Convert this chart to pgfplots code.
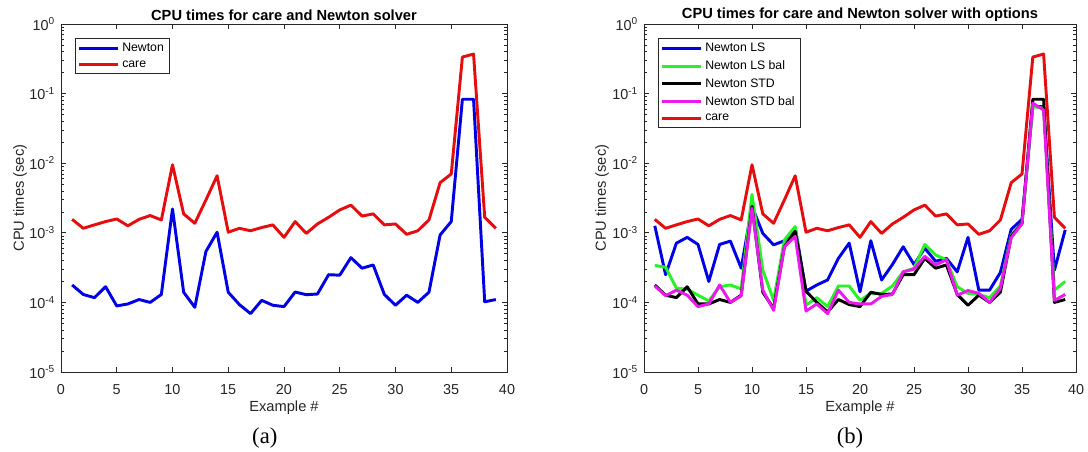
\documentclass[border=0pt]{standalone}
\usepackage{pgfplots}
\pgfplotsset{compat=1.18}
\usepackage{fontspec}
\setmainfont{Liberation Sans}
\newfontfamily\serifcap{Liberation Serif}
\definecolor{axgray}{rgb}{0.15,0.15,0.15}
\definecolor{mblue}{rgb}{0,0,0.9}
\definecolor{mred}{rgb}{0.9,0.05,0.05}
\definecolor{mgreen}{rgb}{0.15,0.95,0.15}
\definecolor{mmag}{rgb}{0.92,0.1,0.92}

\pgfplotstableread{
x newton care ls lsbal std stdbal
1 1.78e-4 1.56e-3 1.26e-3 3.4e-4 1.78e-4 1.72e-4
2 1.30e-4 1.16e-3 2.5e-4 3.2e-4 1.27e-4 1.25e-4
3 1.17e-4 1.30e-3 7.1e-4 1.6e-4 1.17e-4 1.5e-4
4 1.68e-4 1.45e-3 8.6e-4 1.55e-4 1.68e-4 1.27e-4
5 8.9e-5 1.58e-3 6.8e-4 1.27e-4 9.5e-5 8.7e-5
6 9.5e-5 1.26e-3 2.0e-4 1.05e-4 9.5e-5 9.5e-5
7 1.1e-4 1.56e-3 6.8e-4 1.68e-4 1.1e-4 1.78e-4
8 1.0e-4 1.77e-3 7.6e-4 1.78e-4 1.0e-4 1.0e-4
9 1.3e-4 1.53e-3 3.1e-4 1.56e-4 1.27e-4 1.24e-4
10 2.2e-3 9.5e-3 2.4e-3 3.56e-3 2.4e-3 2.25e-3
11 1.4e-4 1.87e-3 9.8e-4 2.9e-4 1.4e-4 1.5e-4
12 8.5e-5 1.37e-3 6.7e-4 1.07e-4 8.2e-5 7.7e-5
13 5.4e-4 2.97e-3 7.7e-4 7.9e-4 6.3e-4 6.3e-4
14 1.02e-3 6.6e-3 1.19e-3 1.23e-3 1.05e-3 8.9e-4
15 1.4e-4 1.02e-3 1.45e-4 9.1e-5 1.45e-4 7.5e-5
16 9.3e-5 1.16e-3 1.78e-4 1.17e-4 1.0e-4 9.5e-5
17 6.9e-5 1.07e-3 2.1e-4 8.7e-5 7.3e-5 6.9e-5
18 1.07e-4 1.19e-3 4.3e-4 1.72e-4 1.1e-4 1.5e-4
19 9.1e-5 1.30e-3 7.1e-4 1.72e-4 9.3e-5 1.0e-4
20 8.7e-5 8.6e-4 1.42e-4 1.07e-4 8.7e-5 9.5e-5
21 1.41e-4 1.45e-3 7.7e-4 1.35e-4 1.4e-4 9.5e-5
22 1.29e-4 9.8e-4 2.1e-4 1.35e-4 1.3e-4 1.22e-4
23 1.32e-4 1.34e-3 3.5e-4 1.72e-4 1.32e-4 1.3e-4
24 2.5e-4 1.67e-3 6.3e-4 2.75e-4 2.5e-4 2.75e-4
25 2.46e-4 2.13e-3 3.5e-4 3.1e-4 2.5e-4 3.0e-4
26 4.4e-4 2.5e-3 6.0e-4 6.8e-4 4.3e-4 4.6e-4
27 3.1e-4 1.74e-3 3.9e-4 4.8e-4 3.1e-4 3.45e-4
28 3.45e-4 1.87e-3 4.3e-4 4.1e-4 3.45e-4 4.1e-4
29 1.3e-4 1.30e-3 2.75e-4 1.68e-4 1.3e-4 1.27e-4
30 9.1e-5 1.34e-3 8.6e-4 1.35e-4 9.1e-5 1.48e-4
31 1.27e-4 9.5e-4 1.5e-4 1.3e-4 1.27e-4 1.35e-4
32 1.0e-4 1.07e-3 1.5e-4 1.17e-4 1.0e-4 1.0e-4
33 1.4e-4 1.53e-3 2.7e-4 1.72e-4 1.4e-4 1.6e-4
34 9.3e-4 5.25e-3 1.12e-3 9.3e-4 8.9e-4 8.5e-4
35 1.45e-3 7.0e-3 1.56e-3 1.37e-3 1.37e-3 1.35e-3
36 8.3e-2 0.335 6.5e-2 6.5e-2 8.3e-2 7.3e-2
37 8.3e-2 0.37 6.5e-2 6.2e-2 8.3e-2 5.8e-2
38 1.02e-4 1.67e-3 2.9e-4 1.5e-4 1.0e-4 1.07e-4
39 1.1e-4 1.16e-3 1.1e-3 2.0e-4 1.1e-4 1.3e-4
}\datatable

\pgfplotsset{
  matlab/.style={
    scale only axis,
    height=261pt,
    xmin=0, xmax=40, ymin=1e-5, ymax=1,
    xtick={0,5,...,40},
    ytick={1e-5,1e-4,1e-3,1e-2,1e-1,1},
    yticklabels={10\textsuperscript{-5},10\textsuperscript{-4},10\textsuperscript{-3},10\textsuperscript{-2},10\textsuperscript{-1},10\textsuperscript{0}},
    /pgf/number format/assume math mode=true,
    axis line style={axgray, line width=0.5pt},
    tick style={axgray, line width=0.5pt},
    major tick length=4pt, minor tick length=2pt,
    tick label style={font=\fontsize{10.8}{12}\selectfont, text=axgray},
    xticklabel style={yshift=-6pt},
    yticklabel style={xshift=-1pt},
    label style={font=\fontsize{11}{13}\selectfont, text=axgray},
    xlabel={Example \#},
    xlabel style={at={(axis description cs:0.5,0)}, anchor=center, yshift=-26.5pt},
    ylabel={CPU times (sec)},
    title style={at={(axis description cs:0.5,1)}, anchor=center, yshift=0.9pt, font=\bfseries\fontsize{11}{13}\selectfont},
    clip=false,
    legend cell align=left,
    legend style={at={(axis description cs:0,1)}, anchor=north west, xshift=10.5pt, yshift=-10.5pt,
      draw=axgray, line width=0.5pt, font=\fontsize{9.2}{10}\selectfont, inner xsep=2pt, inner ysep=1.5pt,
      row sep=1.3pt, nodes={inner sep=2pt}},
    legend image code/.code={\draw[##1, line width=2.2pt] (0pt,0pt) -- (29pt,0pt);},
    every axis plot/.append style={line width=2.2pt, line join=round},
  }
}

\begin{document}
\begin{tikzpicture}
\begin{axis}[ymode=log, matlab, at={(0pt,0pt)}, anchor=south west, width=334.5pt,
  title={CPU times for care and Newton solver},
  ylabel style={at={(axis description cs:0,0.5)}, anchor=center, yshift=30.75pt}]
\addplot[mblue] table[x=x,y=newton] {\datatable};
\addlegendentry{Newton}
\addplot[mred] table[x=x,y=care] {\datatable};
\addlegendentry{care}
\node[font=\serifcap\fontsize{17}{19}\selectfont, anchor=center] at (axis description cs:0.457,-0.19) {(a)};
\end{axis}
\begin{axis}[ymode=log, matlab, at={(437.25pt,0pt)}, anchor=south west, width=324pt,
  title={CPU times for care and Newton solver with options},
  ylabel style={at={(axis description cs:0,0.5)}, anchor=center, yshift=31.5pt}]
\addplot[mblue] table[x=x,y=ls] {\datatable};
\addlegendentry{Newton LS}
\addplot[mgreen] table[x=x,y=lsbal] {\datatable};
\addlegendentry{Newton LS bal}
\addplot[black] table[x=x,y=std] {\datatable};
\addlegendentry{Newton STD}
\addplot[mmag] table[x=x,y=stdbal] {\datatable};
\addlegendentry{Newton STD bal}
\addplot[mred] table[x=x,y=care] {\datatable};
\addlegendentry{care}
\node[font=\serifcap\fontsize{17}{19}\selectfont, anchor=center] at (axis description cs:0.477,-0.19) {(b)};
\end{axis}
\pgfresetboundingbox
\path (-45.75pt,-60pt) rectangle (770.25pt,279pt);
\end{tikzpicture}
\end{document}
